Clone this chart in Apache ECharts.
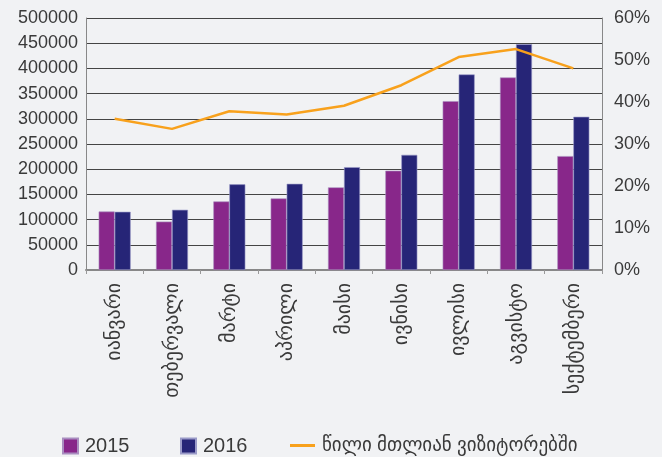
<!DOCTYPE html>
<html>
<head>
<meta charset="utf-8">
<script src="https://cdn.jsdelivr.net/npm/echarts@6/dist/echarts.min.js"></script>
<style>
  html, body { margin: 0; padding: 0; background: #f1f2f4; }
  #main { width: 662px; height: 457px; }
</style>
</head>
<body>
<div id="main"></div>
<script>
// თვეები
const months = ['იანვარი', 'თებერვალი', 'მარტი', 'აპრილი', 'მაისი', 'ივნისი', 'ივლისი', 'აგვისტო', 'სექტემბერი'];
const visits2015 = [116000, 96000, 136000, 142000, 164000, 197000, 335000, 382000, 226000];
const visits2016 = [115500, 119500, 170000, 171000, 204000, 228500, 388000, 448000, 304000];
const sharePct = [36.0, 33.6, 37.8, 37.0, 39.1, 44.0, 50.7, 52.6, 48.0];
const shareName = 'წილი მთლიან ვიზიტორებში';

const font = '"Liberation Sans", "DejaVu Sans", sans-serif';
const textColor = '#3a3a3a';

// legend-ის ერთი ელემენტი
function legendItem(name, left, w, h) {
  return {
    data: [{ name: name, icon: 'rect' }],
    left: left,
    top: 431,
    itemWidth: w,
    itemHeight: h,
    formatter: '{t|{name}}',
    textStyle: {
      color: textColor,
      fontFamily: font,
      rich: { t: { fontSize: name === shareName ? 19 : 20, padding: [0, 0, 0, 2], color: textColor } }
    }
  };
}

var myChart = echarts.init(document.getElementById('main'));
var option = {
  backgroundColor: '#f1f2f4',
  animation: false,
  textStyle: { fontFamily: font },
  grid: { left: 86, right: 60, top: 18, bottom: 187 },
  legend: [
    legendItem('2015', 57, 15, 15),
    legendItem('2016', 175, 15, 15),
    legendItem(shareName, 285, 25, 3)
  ],
  xAxis: {
    type: 'category',
    data: months,
    axisLine: { lineStyle: { color: '#888', width: 2 } },
    axisTick: { show: true, length: 4, lineStyle: { color: '#999' } },
    axisLabel: { rotate: 90, fontSize: 20, color: textColor, margin: 13, fontFamily: font }
  },
  yAxis: [
    {
      type: 'value',
      min: 0,
      max: 500000,
      interval: 50000,
      axisLine: { show: true, lineStyle: { color: '#888' } },
      axisTick: { show: false },
      axisLabel: { fontSize: 18, color: textColor, margin: 8, fontFamily: font, formatter: v => String(v) },
      splitLine: { lineStyle: { color: '#444', width: 1 } }
    },
    {
      type: 'value',
      min: 0,
      max: 60,
      interval: 10,
      axisLine: { show: true, lineStyle: { color: '#888' } },
      axisTick: { show: false },
      axisLabel: { fontSize: 18, color: textColor, margin: 12, formatter: '{value}%', fontFamily: font },
      splitLine: { show: false }
    }
  ],
  series: [
    {
      name: '2015',
      type: 'bar',
      data: visits2015,
      barWidth: 16,
      barGap: '0%',
      itemStyle: { color: '#88278a', borderColor: '#a98ec0', borderWidth: 0.6 }
    },
    {
      name: '2016',
      type: 'bar',
      data: visits2016,
      barWidth: 16,
      barGap: '0%',
      itemStyle: { color: '#262577', borderColor: '#9a9ac8', borderWidth: 0.6 }
    },
    {
      name: shareName,
      type: 'line',
      yAxisIndex: 1,
      data: sharePct,
      symbol: 'none',
      lineStyle: { color: '#f8a11c', width: 2.5 },
      itemStyle: { color: '#f8a11c' }
    }
  ]
};
myChart.setOption(option);
</script>
</body>
</html>
